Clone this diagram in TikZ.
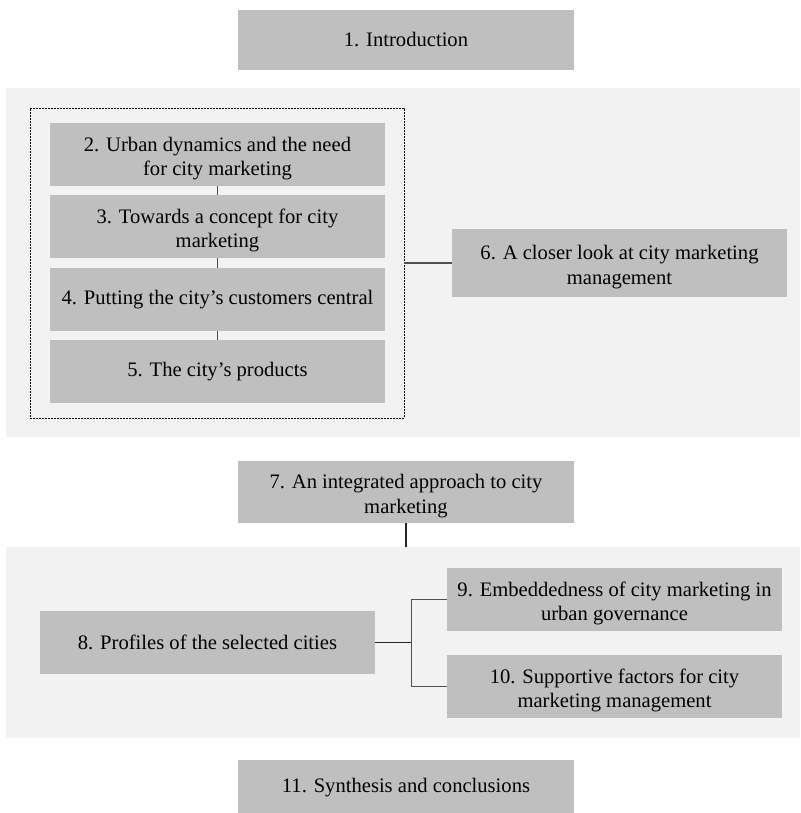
\documentclass[tikz,border=0pt]{standalone}
\usepackage{fontspec}
\setmainfont{Liberation Serif}
\usetikzlibrary{fit}
\definecolor{boxgray}{HTML}{BFBFBF}
\definecolor{panelgray}{HTML}{F2F2F2}
\definecolor{linkgray}{HTML}{505050}
% a taller first line so two-line titles sit as in a word processor
\newcommand{\firstline}{\rule{0pt}{22pt}}
\begin{document}
\begin{tikzpicture}[x=1pt,y=-1pt,
  chapter/.style={fill=boxgray, inner sep=0pt, align=center,
    minimum width=335pt, minimum height=63pt,
    font=\fontsize{20.6pt}{24.5pt}\selectfont},
  panel/.style={fill=panelgray, inner sep=0pt},
  link/.style={draw=linkgray, line width=1.3pt}]
\useasboundingbox (0,0) rectangle (800,813);

% shaded panels grouping the parts
\node[panel, fit={(6,88) (800,437)}] (part1) {};
\node[panel, fit={(6,547) (800,738)}] (part2) {};

% chapters
\node[chapter, minimum width=336pt, minimum height=60pt] (c1) at (406,40) {1. Introduction};
\node[chapter] (c2) at (217.5,154.5) {\firstline 2. Urban dynamics and the need\\for city marketing};
\node[chapter] (c3) at (217.5,226.5) {\firstline 3. Towards a concept for city\\marketing};
\node[chapter] (c4) at (217.5,299.5) {4. Putting the city’s customers central};
\node[chapter] (c5) at (217.5,371.5) {5. The city’s products};
\node[chapter, minimum height=68pt] (c6) at (619.5,263) {\firstline 6. A closer look at city marketing\\management};
\node[chapter, minimum width=336pt, minimum height=62pt] (c7) at (406,492) {\firstline 7. An integrated approach to city\\marketing};
\node[chapter] (c8) at (207.5,642.5) {8. Profiles of the selected cities};
\node[chapter] (c9) at (614.5,599.5) {\firstline 9. Embeddedness of city marketing in\\urban governance};
\node[chapter] (c10) at (614.5,686.5) {\firstline 10. Supportive factors for city\\marketing management};
\node[chapter, minimum width=336pt, minimum height=56pt] (c11) at (406,788) {11. Synthesis and conclusions};

% dotted frame around chapters 2 to 5
\node[draw=black, line width=0.9pt, dash pattern=on 1.6pt off 1.4pt, inner sep=0pt,
  fit={(30,108) (404,418)}] (frame) {};

% connectors
\draw[link] (c2) -- (c3);
\draw[link] (c3) -- (c4);
\draw[link] (c4) -- (c5);
\draw[link] (frame.east) -- (c6.west);
\draw[link, draw=black!85] (c7.south) -- (c7.south |- part2.north);
\coordinate (split) at ([xshift=36pt]c8.east);
\draw[link, draw=black!85] (c8.east) -- (split);
\draw[link] (c9.west) -| (split);
\draw[link] (c10.west) -| (split);
\end{tikzpicture}
\end{document}
